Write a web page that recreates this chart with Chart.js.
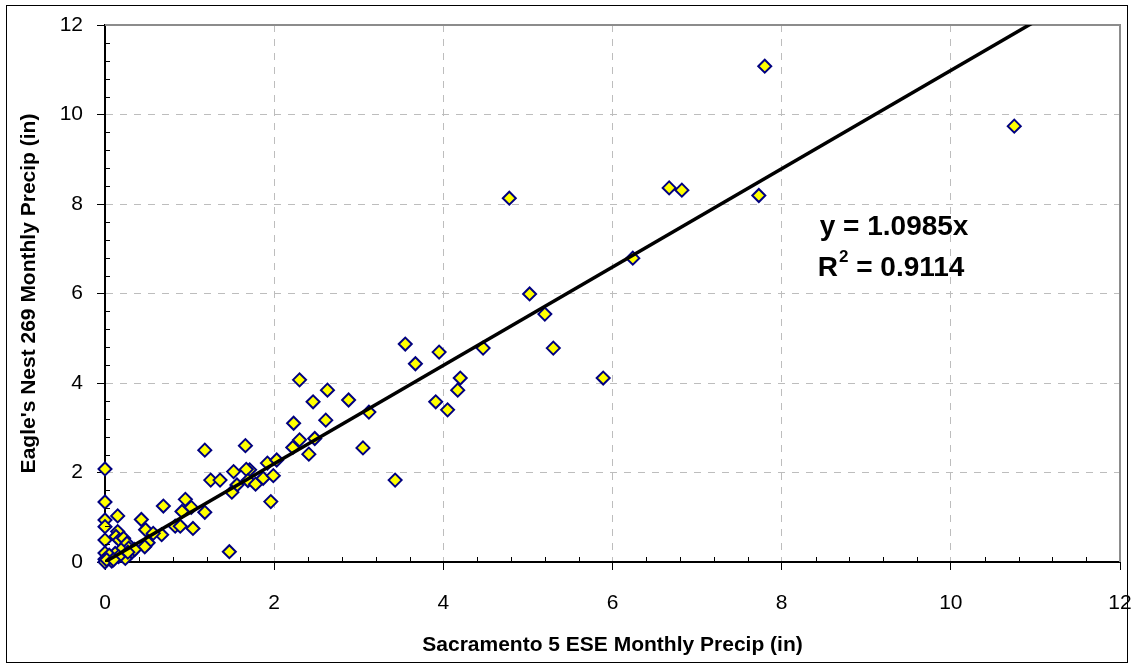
<!DOCTYPE html>
<html>
<head>
<meta charset="utf-8">
<script src="https://cdn.jsdelivr.net/npm/chart.js@4/dist/chart.umd.min.js"></script>
<style>
  html, body { margin: 0; padding: 0; background: #fff; }
  #wrap { width: 1134px; height: 668px; position: relative; }
</style>
</head>
<body>
<div id="wrap"><canvas id="c"></canvas></div>
<script>
// ── data ──────────────────────────────────────────────
const sacramentoIn = [
  7.80, 10.75, 6.67, 6.82, 7.73, 4.78, 6.24, 5.02, 5.20, 3.55,
  3.95, 4.47, 5.30, 3.67, 4.20, 4.17, 5.89, 3.91, 4.05, 2.30,
  2.63, 2.46, 2.88, 2.23, 2.61, 3.12, 2.30, 2.22, 2.48, 2.41,
  3.05, 3.43, 1.18, 1.66, 1.92, 2.03, 1.71, 1.67, 1.52, 1.25,
  1.36, 1.69, 1.78, 1.87, 1.99, 1.56, 1.50, 1.96, 1.18, 1.04,
  1.47, 0.95, 1.02, 0.91, 0.00, 0.00, 0.15, 0.00, 0.00, 0.00,
  0.00, 0.00, 0.00, 0.69, 0.43, 0.48, 0.83, 0.89, 0.67, 0.57,
  0.51, 0.47, 0.15, 0.13, 0.17, 0.22, 0.26, 0.28, 0.19, 0.12,
  0.30, 0.05, 0.24, 0.08, 0.16, 0.32, 0.02, 0.10, 0.35, 0.27
];
const eaglesNestIn = [
  11.08, 9.74, 8.36, 8.31, 8.19, 8.13, 6.79, 5.99, 5.54, 4.87,
  4.69, 4.78, 4.78, 4.43, 4.11, 3.84, 4.11, 3.58, 3.40, 4.07,
  3.84, 3.58, 3.62, 3.10, 3.17, 3.35, 2.73, 2.56, 2.76, 2.41,
  2.55, 1.83, 2.50, 2.60, 2.21, 2.28, 2.06, 2.07, 2.02, 1.83,
  1.83, 1.82, 1.74, 1.87, 1.93, 1.72, 1.56, 1.35, 1.11, 0.75,
  0.23, 1.40, 1.22, 1.13, 2.08, 1.34, 1.03, 0.94, 0.79, 0.49,
  0.20, 0.06, 0.00, 1.25, 0.95, 0.72, 0.80, 0.80, 0.61, 0.64,
  0.43, 0.34, 0.68, 0.57, 0.49, 0.53, 0.42, 0.31, 0.27, 0.19,
  0.19, 0.15, 0.08, 0.02, 0.12, 0.23, 0.05, 0.05, 0.28, 0.22
];

const TREND_SLOPE = 1.0985;
const TREND_R2    = 0.9114;
const trendX      = [0, 12];

const axisTicks   = [0, 2, 4, 6, 8, 10, 12];
const xTitle      = 'Sacramento 5 ESE Monthly Precip (in)';
const yTitle      = "Eagle's Nest 269 Monthly Precip (in)";

const FONT = "'Liberation Sans', Arial, sans-serif";

// ── helpers ───────────────────────────────────────────
const points = sacramentoIn.map((x, i) => ({ x, y: eaglesNestIn[i] }));
const trend  = trendX.map(x => ({ x, y: TREND_SLOPE * x }));

// grid: keep dashed lines only between the axes and the far border
const gridColor = ctx => {
  const v = ctx.tick && ctx.tick.value;
  return (v === 0 || v === 12) ? 'rgba(0,0,0,0)' : '#bdbdbd';
};

// frame, plot border, minor ticks, equation text
const decor = {
  id: 'decor',
  beforeDatasetsDraw(chart) {
    const { ctx, chartArea: a } = chart;
    ctx.save();
    ctx.strokeStyle = '#8c8c8c';
    ctx.lineWidth = 2;
    ctx.beginPath();
    ctx.moveTo(a.left, a.top);
    ctx.lineTo(a.right, a.top);
    ctx.lineTo(a.right, a.bottom);
    ctx.stroke();
    ctx.restore();
  },
  afterDraw(chart) {
    const { ctx, chartArea: a, scales } = chart;
    ctx.save();
    // outer frame
    ctx.strokeStyle = '#000';
    ctx.lineWidth = 1;
    ctx.strokeRect(6.5, 5.5, 1121, 657);

    // minor ticks every 0.4
    ctx.beginPath();
    for (let k = 1; k < 30; k++) {
      if (k % 5 === 0) continue;
      const v = k * 0.4;
      const px = Math.round(scales.x.getPixelForValue(v)) + 0.5;
      ctx.moveTo(px, a.bottom);
      ctx.lineTo(px, a.bottom - 5);
      const py = Math.round(scales.y.getPixelForValue(v)) + 0.5;
      ctx.moveTo(a.left, py);
      ctx.lineTo(a.left + 5, py);
    }
    ctx.stroke();

    // equation
    ctx.fillStyle = '#000';
    ctx.textBaseline = 'middle';
    ctx.font = `bold 28px ${FONT}`;
    const tx = scales.x.getPixelForValue(8.45);
    const ty = scales.y.getPixelForValue(7.49);
    ctx.fillText(`y = ${TREND_SLOPE}x`, tx, ty);
    const ry = ty + 41;
    ctx.fillText('R', tx - 2, ry);
    const rw = ctx.measureText('R').width;
    ctx.font = `bold 17px ${FONT}`;
    ctx.fillText('2', tx - 2 + rw + 1, ry - 11);
    const sw = ctx.measureText('2').width;
    ctx.font = `bold 28px ${FONT}`;
    ctx.fillText(` = ${TREND_R2}`, tx - 2 + rw + 1 + sw, ry);
    ctx.restore();
  }
};

new Chart(document.getElementById('c'), {
  type: 'scatter',
  data: {
    datasets: [
      {
        type: 'line',
        label: 'Trend',
        data: trend,
        borderColor: '#000',
        borderWidth: 3.5,
        pointRadius: 0,
        fill: false,
        order: 0,
      },
      {
        label: 'Monthly precip',
        data: points,
        pointStyle: 'rectRot',
        pointRadius: 6.5,
        pointBorderWidth: 2,
        pointBackgroundColor: '#ffff00',
        pointBorderColor: '#000080',
        clip: false,
        order: 1,
      },
    ],
  },
  options: {
    responsive: true,
    maintainAspectRatio: false,
    animation: false,
    layout: { padding: { left: 0, top: 25, right: 14, bottom: 0 } },
    plugins: {
      legend: { display: false },
      tooltip: { enabled: false },
    },
    scales: {
      x: {
        type: 'linear',
        min: 0, max: 12,
        afterBuildTicks: s => { s.ticks = axisTicks.map(v => ({ value: v })); },
        afterFit: s => { s.height = 106; s.paddingLeft = 0; s.paddingRight = 0; },
        ticks: { color: '#000', font: { family: FONT, size: 21 }, padding: 21 },
        grid: { color: gridColor, tickColor: '#000', tickLength: 8, lineWidth: 1 },
        border: { color: '#000', width: 2, dash: [7, 7] },
        title: {
          display: true, text: xTitle, color: '#000',
          font: { family: FONT, size: 21, weight: 'bold' },
          padding: { top: 0, bottom: 10 },
        },
      },
      y: {
        type: 'linear',
        min: 0, max: 12,
        afterBuildTicks: s => { s.ticks = axisTicks.map(v => ({ value: v })); },
        afterFit: s => { s.width = 105; s.paddingTop = 0; s.paddingBottom = 0; },
        ticks: { color: '#000', font: { family: FONT, size: 21 }, padding: 14 },
        grid: { color: gridColor, tickColor: '#000', tickLength: 8, lineWidth: 1 },
        border: { color: '#000', width: 2, dash: [7, 7] },
        title: {
          display: true, text: yTitle, color: '#000',
          font: { family: FONT, size: 21, weight: 'bold' },
          padding: { top: 17, bottom: 0 },
        },
      },
    },
  },
  plugins: [decor],
});
</script>
</body>
</html>
